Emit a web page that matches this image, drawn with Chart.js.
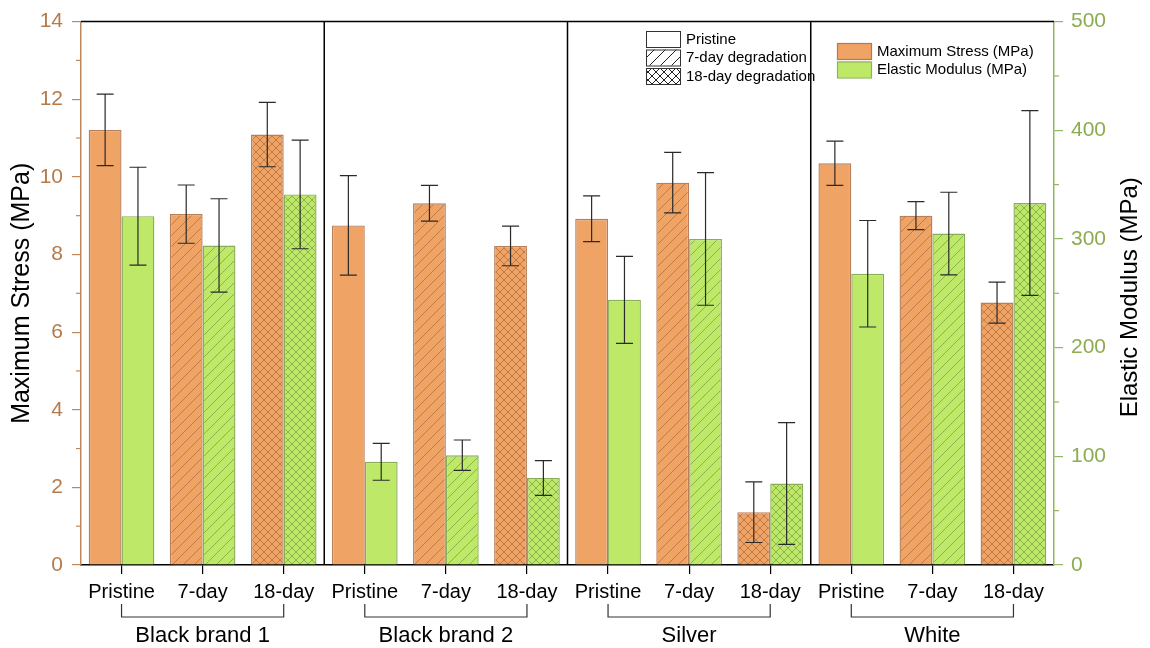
<!DOCTYPE html>
<html lang="en">
<head>
<meta charset="UTF-8" />
<title>Maximum Stress and Elastic Modulus</title>
<style>
  html, body { margin: 0; padding: 0; background: #fff; }
  #wrap { width: 1150px; height: 648px; position: relative; }
</style>
<script src="https://cdn.jsdelivr.net/npm/chart.js"></script>
</head>
<body>
<div id="wrap"><canvas id="stressChart"></canvas></div>
<script>
// groups of three conditions each
const groups = ["Black brand 1", "Black brand 2", "Silver", "White"];
const conditions = ["Pristine", "7-day", "18-day"];
const tickLabels = [
  "Pristine", "7-day", "18-day",
  "Pristine", "7-day", "18-day",
  "Pristine", "7-day", "18-day",
  "Pristine", "7-day", "18-day"
];

// values
const maxStress    = [11.21, 9.04, 11.09, 8.75, 9.32, 8.22, 8.92, 9.85, 1.36, 10.35, 9.00, 6.76];
const maxStressErr = [0.92, 0.75, 0.83, 1.28, 0.46, 0.51, 0.59, 0.78, 0.78, 0.57, 0.36, 0.53];
const modulus      = [321, 294, 341, 95, 101, 80, 244, 300, 75, 268, 305, 333];
const modulusErr   = [45, 43, 50, 17, 14, 16, 40, 61, 56, 49, 38, 85];

const legendHatch = ["Pristine", "7-day degradation", "18-day degradation"];
const legendSeries = ["Maximum Stress (MPa)", "Elastic Modulus (MPa)"];

const FONT = "Arial, 'Liberation Sans', sans-serif";
const stressColor = "#bf875c";
const modulusColor = "#94b65e";

// hatch patterns: none / diagonal / cross
function makePattern(fill, line, kind) {
  const size = kind === "cross" ? 8 : 11;
  const c = document.createElement("canvas");
  c.width = size; c.height = size;
  const g = c.getContext("2d");
  g.fillStyle = fill;
  g.fillRect(0, 0, size, size);
  if (kind) {
    g.strokeStyle = line;
    g.lineWidth = 1;
    g.beginPath();
    g.moveTo(-1, size + 1); g.lineTo(size + 1, -1);
    g.moveTo(-1, 1); g.lineTo(1, -1);
    g.moveTo(size - 1, size + 1); g.lineTo(size + 1, size - 1);
    if (kind === "cross") {
      g.moveTo(-1, -1); g.lineTo(size + 1, size + 1);
      g.moveTo(size - 1, -1); g.lineTo(size + 1, 1);
      g.moveTo(-1, size - 1); g.lineTo(1, size + 1);
    }
    g.stroke();
  }
  return g.createPattern(c, "repeat");
}

function kindOf(label) {
  if (label === "7-day") return "diag";
  if (label === "18-day") return "cross";
  return null;
}

const orangeFills = tickLabels.map(l => makePattern("#efa365", "rgba(160,95,50,0.6)", kindOf(l)));
const greenFills = tickLabels.map(l => makePattern("#bde868", "rgba(110,150,60,0.65)", kindOf(l)));

const decor = {
  id: "decor",
  afterDatasetsDraw(chart) {
    const ctx = chart.ctx;
    const sets = [
      [0, maxStress, maxStressErr, chart.scales.yStress],
      [1, modulus, modulusErr, chart.scales.yModulus]
    ];
    ctx.save();
    ctx.strokeStyle = "#2a2a2a";
    ctx.lineWidth = 1.2;
    sets.forEach(([di, vals, errs, ys]) => {
      chart.getDatasetMeta(di).data.forEach((bar, i) => {
        const top = ys.getPixelForValue(vals[i] + errs[i]);
        const bot = ys.getPixelForValue(vals[i] - errs[i]);
        ctx.beginPath();
        ctx.moveTo(bar.x, top); ctx.lineTo(bar.x, bot);
        ctx.moveTo(bar.x - 8.5, top); ctx.lineTo(bar.x + 8.5, top);
        ctx.moveTo(bar.x - 8.5, bot); ctx.lineTo(bar.x + 8.5, bot);
        ctx.stroke();
      });
    });
    ctx.restore();
  },
  afterDraw(chart) {
    const ctx = chart.ctx;
    const a = chart.chartArea;
    const x = chart.scales.x;
    const yS = chart.scales.yStress;
    const yM = chart.scales.yModulus;
    ctx.save();

    // top frame line
    ctx.strokeStyle = "#000";
    ctx.lineWidth = 1.5;
    ctx.beginPath();
    ctx.moveTo(a.left, a.top); ctx.lineTo(a.right, a.top);
    ctx.stroke();

    // group separators
    for (let g = 1; g < groups.length; g++) {
      const sx = (x.getPixelForValue(g * 3 - 1) + x.getPixelForValue(g * 3)) / 2;
      ctx.beginPath();
      ctx.moveTo(sx, a.top); ctx.lineTo(sx, a.bottom);
      ctx.stroke();
    }

    // minor ticks
    ctx.lineWidth = 1.2;
    ctx.strokeStyle = stressColor;
    for (let v = 1; v < 14; v += 2) {
      const py = yS.getPixelForValue(v);
      ctx.beginPath(); ctx.moveTo(a.left - 5, py); ctx.lineTo(a.left, py); ctx.stroke();
    }
    ctx.strokeStyle = modulusColor;
    for (let v = 50; v < 500; v += 100) {
      const py = yM.getPixelForValue(v);
      ctx.beginPath(); ctx.moveTo(a.right, py); ctx.lineTo(a.right + 5, py); ctx.stroke();
    }

    // brackets + group labels
    ctx.strokeStyle = "#333";
    ctx.lineWidth = 1.2;
    ctx.fillStyle = "#000";
    ctx.font = "22px " + FONT;
    ctx.textAlign = "center";
    ctx.textBaseline = "middle";
    groups.forEach((name, g) => {
      const x0 = x.getPixelForValue(g * 3);
      const x2 = x.getPixelForValue(g * 3 + 2);
      ctx.beginPath();
      ctx.moveTo(x0, 604); ctx.lineTo(x0, 617); ctx.lineTo(x2, 617); ctx.lineTo(x2, 604);
      ctx.stroke();
      ctx.fillText(name, x.getPixelForValue(g * 3 + 1), 636);
    });

    // axis titles
    const midY = (a.top + a.bottom) / 2;
    ctx.font = "25px " + FONT;
    ctx.save();
    ctx.translate(22, midY);
    ctx.rotate(-Math.PI / 2);
    ctx.fillText("Maximum Stress (MPa)", 0, 0);
    ctx.restore();
    ctx.font = "24px " + FONT;
    ctx.save();
    ctx.translate(1130, midY + 4);
    ctx.rotate(-Math.PI / 2);
    ctx.fillText("Elastic Modulus (MPa)", 0, 0);
    ctx.restore();

    // legend: hatch types
    ctx.font = "15px " + FONT;
    ctx.textAlign = "left";
    const kinds = [null, "diag", "cross"];
    legendHatch.forEach((t, i) => {
      const by = 31 + i * 18.5;
      ctx.fillStyle = makePattern("#fff", "#222", kinds[i]);
      ctx.fillRect(646, by, 34, 16);
      ctx.strokeStyle = "#333";
      ctx.lineWidth = 1;
      ctx.strokeRect(646.5, by + 0.5, 34, 16);
      ctx.fillStyle = "#000";
      ctx.fillText(t, 686, by + 8.5);
    });

    // legend: series
    const fills = ["#efa365", "#bde868"];
    const edges = ["#b27a4f", "#8fb35a"];
    legendSeries.forEach((t, i) => {
      const by = 43 + i * 18.5;
      ctx.fillStyle = fills[i];
      ctx.fillRect(837, by, 34, 16);
      ctx.strokeStyle = edges[i];
      ctx.lineWidth = 1.2;
      ctx.strokeRect(837.5, by + 0.5, 34, 16);
      ctx.fillStyle = "#000";
      ctx.fillText(t, 877, by + 8.5);
    });

    ctx.restore();
  }
};

new Chart(document.getElementById("stressChart"), {
  type: "bar",
  data: {
    labels: tickLabels,
    datasets: [
      {
        label: "Maximum Stress (MPa)",
        data: maxStress,
        yAxisID: "yStress",
        backgroundColor: orangeFills,
        borderColor: "rgba(170,105,62,0.85)",
        borderWidth: 1.4
      },
      {
        label: "Elastic Modulus (MPa)",
        data: modulus,
        yAxisID: "yModulus",
        backgroundColor: greenFills,
        borderColor: "rgba(125,165,70,0.9)",
        borderWidth: 1.4
      }
    ]
  },
  options: {
    responsive: true,
    maintainAspectRatio: false,
    animation: false,
    categoryPercentage: 0.81,
    barPercentage: 1.0,
    layout: { padding: { top: 18, left: 0, right: 0, bottom: 0 } },
    plugins: {
      legend: { display: false },
      tooltip: { enabled: false }
    },
    scales: {
      x: {
        afterFit: s => { s.height = 83; },
        grid: {
          display: true, drawOnChartArea: false, offset: false,
          tickLength: 9, color: "#000", lineWidth: 1.2
        },
        border: { color: "#000", width: 1.5 },
        ticks: { color: "#000", font: { family: FONT, size: 20 }, padding: 6, maxRotation: 0, autoSkip: false }
      },
      yStress: {
        position: "left",
        min: 0, max: 14,
        afterFit: s => { s.width = 81; },
        grid: { drawOnChartArea: false, tickLength: 9, color: stressColor, lineWidth: 1.2 },
        border: { color: stressColor, width: 1.5 },
        ticks: { stepSize: 2, color: "#b57a4a", font: { family: FONT, size: 21 }, padding: 9 }
      },
      yModulus: {
        position: "right",
        min: 0, max: 500,
        afterFit: s => { s.width = 96; },
        grid: { drawOnChartArea: false, tickLength: 9, color: modulusColor, lineWidth: 1.2 },
        border: { color: modulusColor, width: 1.5 },
        ticks: { stepSize: 100, color: "#8cac50", font: { family: FONT, size: 21 }, padding: 8 }
      }
    }
  },
  plugins: [decor]
});
</script>
</body>
</html>
